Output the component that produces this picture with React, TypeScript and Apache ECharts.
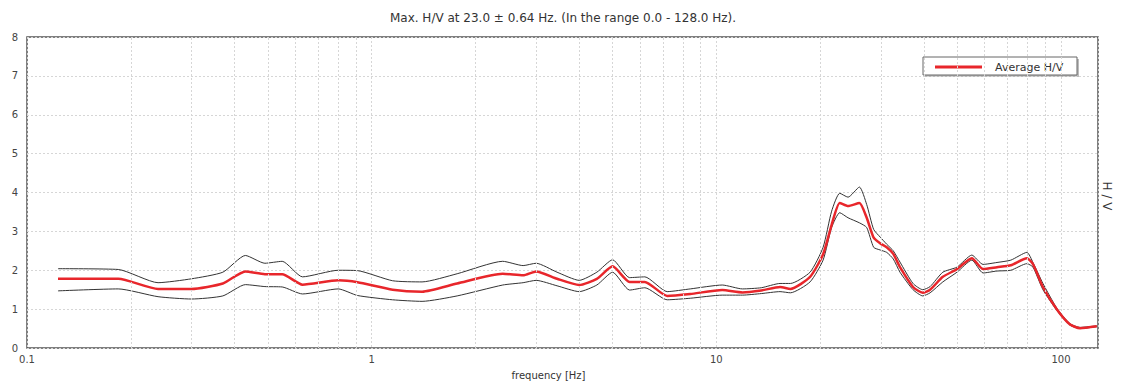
import React, { useEffect, useRef } from "react";
import * as echarts from "echarts";

const FREQ = [0.123, 0.184, 0.24, 0.3, 0.37, 0.43, 0.49, 0.55, 0.63, 0.8, 0.91, 1.15, 1.4, 1.77, 2.4, 2.75, 3.0, 3.45, 4.0, 4.5, 5.0, 5.6, 6.2, 7.2, 8.4, 10.4, 11.9, 13.5, 15.3, 16.4, 18.7, 20.4, 21.6, 22.8, 24.1, 26.0, 27.3, 28.6, 29.9, 31.2, 32.6, 34.1, 37.2, 39.7, 41.7, 45.4, 49.9, 55.1, 59.4, 65.2, 71.5, 79.6, 82.9, 88.6, 97.3, 106, 113.5, 127];

const AVG = [1.78, 1.78, 1.52, 1.52, 1.66, 1.97, 1.9, 1.9, 1.63, 1.74, 1.69, 1.5, 1.45, 1.66, 1.91, 1.87, 1.97, 1.78, 1.62, 1.78, 2.1, 1.7, 1.7, 1.34, 1.39, 1.49, 1.43, 1.48, 1.57, 1.52, 1.83, 2.41, 3.17, 3.73, 3.65, 3.73, 3.35, 2.84, 2.69, 2.59, 2.42, 2.08, 1.57, 1.42, 1.5, 1.83, 2.03, 2.31, 2.03, 2.08, 2.13, 2.31, 2.16, 1.57, 0.99, 0.61, 0.51, 0.56];

const UPPER = [2.04, 2.02, 1.68, 1.78, 1.95, 2.38, 2.18, 2.23, 1.83, 2.0, 1.99, 1.73, 1.7, 1.91, 2.23, 2.12, 2.18, 1.95, 1.74, 1.95, 2.27, 1.81, 1.83, 1.45, 1.52, 1.62, 1.52, 1.55, 1.66, 1.66, 1.95, 2.59, 3.52, 3.98, 3.88, 4.14, 3.69, 3.05, 2.85, 2.67, 2.5, 2.21, 1.66, 1.5, 1.58, 1.95, 2.08, 2.39, 2.15, 2.2, 2.26, 2.46, 2.2, 1.66, 1.02, 0.63, 0.53, 0.57];

const LOWER = [1.47, 1.52, 1.32, 1.26, 1.34, 1.63, 1.58, 1.57, 1.39, 1.52, 1.35, 1.24, 1.2, 1.34, 1.62, 1.68, 1.74, 1.6, 1.45, 1.62, 1.95, 1.49, 1.55, 1.24, 1.28, 1.36, 1.36, 1.4, 1.45, 1.42, 1.7, 2.26, 3.1, 3.48, 3.35, 3.22, 3.1, 2.59, 2.52, 2.46, 2.29, 1.95, 1.5, 1.34, 1.42, 1.7, 1.95, 2.26, 1.93, 1.98, 2.0, 2.17, 2.08, 1.5, 0.96, 0.59, 0.5, 0.55];

const MINOR_GRID = [0.2, 0.3, 0.4, 0.5, 0.6, 0.7, 0.8, 0.9, 2, 3, 4, 5, 6, 7, 8, 9, 20, 30, 40, 50, 60, 70, 80, 90];

const DECADE_LABELS: Record<string, string> = { "-1": "0.1", "0": "1", "1": "10", "2": "100" };

const TITLE = "Max. H/V at 23.0 \u00b1 0.64 Hz. (In the range 0.0 - 128.0 Hz).";
const X_NAME = "frequency [Hz]";
const Y_NAME = "H / V";
const LEGEND_NAME = "Average H/V";

export default function App() {
  const ref = useRef<HTMLDivElement>(null);
  useEffect(() => {
    document.body.style.margin = "0";
    const chart = echarts.init(ref.current!, null, { renderer: "svg" });
    const gridLine = { color: "#d6d6d6", type: [2, 2] as any, width: 1 };
    const font = "DejaVu Sans, Verdana, sans-serif";
    chart.setOption({
      animation: false,
      backgroundColor: "#ffffff",
      title: {
        text: TITLE,
        left: 558,
        textAlign: "center",
        top: 7,
        textStyle: { fontSize: 12, fontWeight: "normal", color: "#333", fontFamily: font },
      },
      grid: {
        left: 27,
        right: 23,
        top: 37,
        bottom: 33,
        show: true,
        borderColor: "#555",
        borderWidth: 1.5,
        backgroundColor: "transparent",
      },
      xAxis: {
        type: "log",
        logBase: 10,
        min: 0.1,
        max: 128,
        name: X_NAME,
        nameLocation: "middle",
        nameGap: 22,
        nameTextStyle: { fontSize: 10, color: "#333", fontFamily: font, padding: [0, 28, 0, 0] },
        axisLine: { show: false },
        axisTick: { show: false },
        axisLabel: {
          fontSize: 10,
          color: "#444",
          fontFamily: font,
          margin: 6,
          formatter: (v: number) => {
            const l = Math.log10(v);
            const r = Math.round(l);
            return Math.abs(l - r) < 1e-6 ? DECADE_LABELS[String(r)] ?? "" : "";
          },
        },
        splitLine: { show: true, lineStyle: gridLine },
      },
      yAxis: {
        type: "value",
        min: 0,
        max: 8,
        interval: 1,
        axisLine: { show: false },
        axisTick: { show: false },
        axisLabel: { fontSize: 10, color: "#444", fontFamily: font, margin: 9 },
        splitLine: { show: true, lineStyle: gridLine },
      },
      series: [
        {
          type: "line",
          name: "minor-grid",
          data: [],
          silent: true,
          z: 1,
          markLine: {
            silent: true,
            symbol: "none",
            label: { show: false },
            lineStyle: gridLine,
            data: MINOR_GRID.map((v) => ({ xAxis: v })),
          },
        },
        {
          type: "line",
          name: "Upper",
          data: FREQ.map((f, i) => [f, UPPER[i]]),
          showSymbol: false,
          smooth: 0.2,
          lineStyle: { color: "#333", width: 1 },
          itemStyle: { color: "#333" },
          z: 3,
        },
        {
          type: "line",
          name: "Lower",
          data: FREQ.map((f, i) => [f, LOWER[i]]),
          showSymbol: false,
          smooth: 0.2,
          lineStyle: { color: "#333", width: 1 },
          itemStyle: { color: "#333" },
          z: 3,
        },
        {
          type: "line",
          name: LEGEND_NAME,
          data: FREQ.map((f, i) => [f, AVG[i]]),
          showSymbol: false,
          smooth: 0.2,
          lineStyle: { color: "#e8262b", width: 2.5 },
          itemStyle: { color: "#e8262b" },
          z: 4,
        },
      ],
      graphic: [
        {
          type: "group",
          x: 923,
          y: 57,
          children: [
            { type: "rect", shape: { x: 2, y: 2, width: 154, height: 18 }, style: { fill: "#bbb" } },
            { type: "rect", shape: { x: 0, y: 0, width: 154, height: 18 }, style: { fill: "#fff", stroke: "#666", lineWidth: 1 } },
            { type: "line", shape: { x1: 12, y1: 10, x2: 59, y2: 10 }, style: { stroke: "#e8262b", lineWidth: 3 } },
            { type: "text", x: 72, y: 10, style: { text: LEGEND_NAME, font: "11px " + font, fill: "#333", verticalAlign: "middle" } },
          ],
        },
        {
          type: "text",
          x: 1107,
          y: 196,
          rotation: -Math.PI / 2,
          style: { text: Y_NAME, font: "12px " + font, fill: "#333", textAlign: "center", verticalAlign: "middle" },
        },
      ],
    });
    return () => chart.dispose();
  }, []);
  return <div ref={ref} style={{ width: 1121, height: 385 }} />;
}
